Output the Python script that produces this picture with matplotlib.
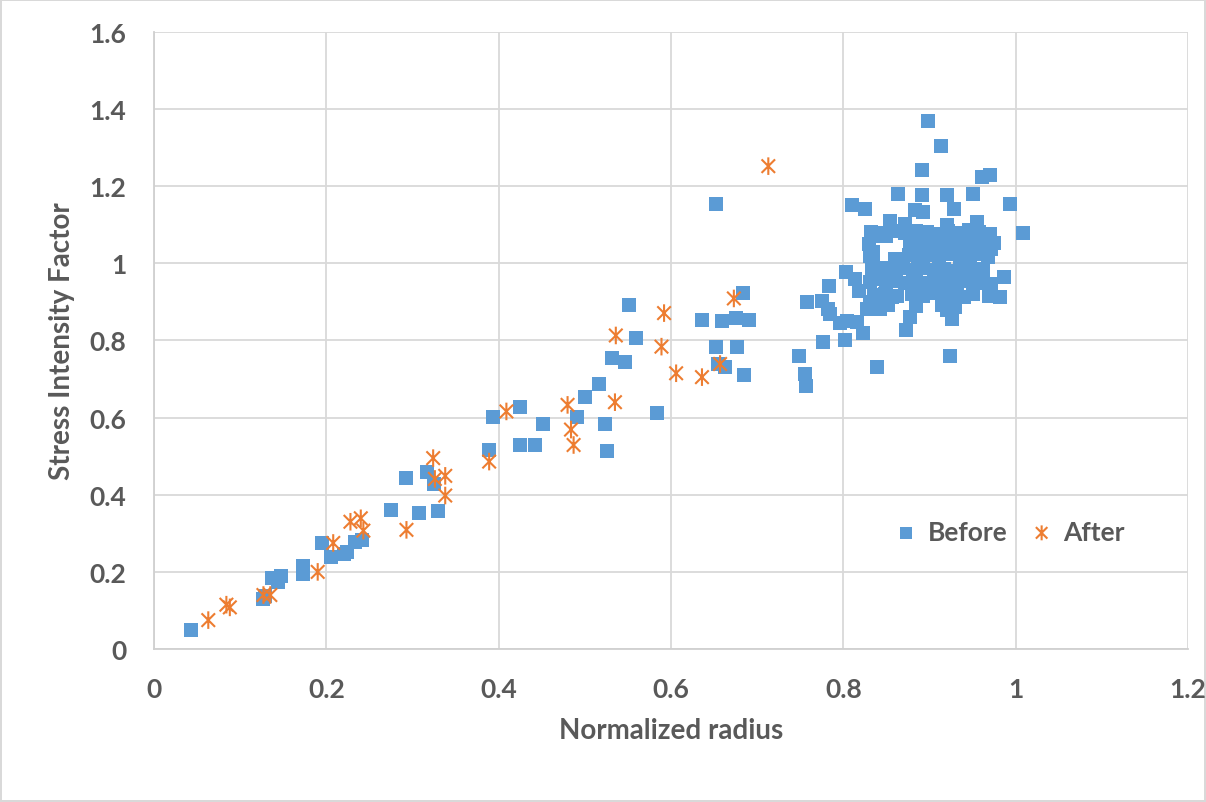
import matplotlib.pyplot as plt
import numpy as np
from matplotlib.path import Path

plt.rcParams['font.family'] = ['Lato', 'DejaVu Sans']
plt.rcParams['font.weight'] = 'bold'
plt.rcParams['axes.labelweight'] = 'bold'

# Before: scattered points
before_x = [0.043, 0.127, 0.129, 0.137, 0.147, 0.144, 0.173, 0.173, 0.195, 0.206, 0.220, 0.224,
            0.233, 0.241, 0.275, 0.293, 0.308, 0.317, 0.325, 0.330, 0.389, 0.393, 0.425, 0.425,
            0.442, 0.451, 0.491, 0.500, 0.517, 0.524, 0.526, 0.531, 0.547, 0.551, 0.559, 0.584,
            0.636, 0.652, 0.652, 0.655, 0.659, 0.663, 0.676, 0.677, 0.684, 0.685, 0.690,
            0.749, 0.756, 0.757, 0.758, 0.775, 0.777, 0.782, 0.784, 0.785, 0.796, 0.802, 0.803,
            0.804, 0.810, 0.814, 0.816, 0.818, 0.823, 0.825, 0.827, 0.831, 0.839, 0.843, 0.847,
            0.839, 0.850, 0.835, 0.835, 0.839, 0.854, 0.858, 0.860, 0.850, 0.856, 0.854, 0.863,
            0.898, 0.914, 0.891, 0.961, 0.970, 0.891, 0.920, 0.950, 0.994, 1.009, 0.883, 0.892,
            0.929, 0.872, 0.955, 0.920, 0.972, 0.986, 0.972, 0.982, 0.969, 0.924, 0.873, 0.877,
            0.926, 0.920]
before_y = [0.049, 0.130, 0.138, 0.183, 0.190, 0.173, 0.216, 0.195, 0.275, 0.238, 0.246, 0.251,
            0.277, 0.283, 0.361, 0.443, 0.352, 0.458, 0.428, 0.357, 0.517, 0.601, 0.627, 0.529,
            0.529, 0.584, 0.601, 0.653, 0.687, 0.584, 0.513, 0.755, 0.743, 0.892, 0.806, 0.611,
            0.853, 1.154, 0.784, 0.739, 0.850, 0.732, 0.858, 0.784, 0.922, 0.711, 0.853,
            0.759, 0.713, 0.681, 0.899, 0.903, 0.795, 0.882, 0.940, 0.869, 0.845, 0.800, 0.977,
            0.851, 1.150, 0.960, 0.847, 0.929, 0.820, 1.141, 0.882, 0.899, 0.730, 0.882, 0.899,
            1.072, 1.072, 1.029, 0.994, 0.960, 0.960, 0.985, 1.011, 0.925, 0.912, 1.111, 1.180,
            1.370, 1.304, 1.242, 1.223, 1.230, 1.177, 1.176, 1.180, 1.154, 1.079, 1.137, 1.133,
            1.140, 1.102, 1.106, 1.100, 1.037, 0.964, 0.947, 0.912, 0.916, 0.761, 0.826, 0.860,
            0.856, 0.878]

# Before: dense cluster near the rim
cluster_x = [0.832, 0.845, 0.856, 0.872, 0.884, 0.897, 0.908, 0.921, 0.934, 0.946, 0.958, 0.970,
             0.830, 0.878, 0.889, 0.901, 0.913, 0.925, 0.937, 0.949, 0.961, 0.975,
             0.831, 0.876, 0.887, 0.899, 0.911, 0.923, 0.935, 0.947, 0.959, 0.968,
             0.833, 0.845, 0.857, 0.869, 0.881, 0.893, 0.905, 0.917, 0.929, 0.941, 0.953, 0.962,
             0.831, 0.861, 0.872, 0.884, 0.896, 0.908, 0.920, 0.932, 0.944, 0.955,
             0.836, 0.848, 0.862, 0.880, 0.892, 0.904, 0.916, 0.928, 0.940, 0.950,
             0.840, 0.852, 0.884, 0.915, 0.930]
cluster_y = [1.081, 1.078, 1.084, 1.079, 1.085, 1.080, 1.077, 1.083, 1.079, 1.086, 1.080, 1.075,
             1.050, 1.052, 1.047, 1.053, 1.049, 1.055, 1.046, 1.051, 1.048, 1.052,
             1.019, 1.021, 1.016, 1.022, 1.018, 1.024, 1.015, 1.020, 1.023, 1.017,
             0.985, 0.988, 0.982, 0.987, 0.983, 0.989, 0.984, 0.986, 0.981, 0.988, 0.985, 0.983,
             0.952, 0.955, 0.949, 0.953, 0.950, 0.956, 0.951, 0.948, 0.954, 0.950,
             0.918, 0.921, 0.915, 0.920, 0.916, 0.922, 0.917, 0.919, 0.914, 0.921,
             0.889, 0.892, 0.890, 0.893, 0.888]

after_x = [0.063, 0.084, 0.088, 0.127, 0.135, 0.190, 0.208, 0.228, 0.240, 0.243, 0.293, 0.324,
           0.326, 0.338, 0.338, 0.389, 0.409, 0.480, 0.484, 0.487, 0.535, 0.536, 0.589, 0.592,
           0.606, 0.636, 0.657, 0.673, 0.713]
after_y = [0.075, 0.115, 0.108, 0.140, 0.140, 0.200, 0.275, 0.330, 0.339, 0.307, 0.309, 0.495,
           0.441, 0.449, 0.398, 0.486, 0.616, 0.633, 0.569, 0.529, 0.640, 0.813, 0.784, 0.871,
           0.715, 0.705, 0.739, 0.909, 1.252]

x_ticks = [0, 0.2, 0.4, 0.6, 0.8, 1, 1.2]
y_ticks = [0, 0.2, 0.4, 0.6, 0.8, 1, 1.2, 1.4, 1.6]

# Excel-like star: X plus a vertical bar
star = Path([(-1, -1), (1, 1), (-1, 1), (1, -1), (0, -1.3), (0, 1.3)],
            [Path.MOVETO, Path.LINETO, Path.MOVETO, Path.LINETO, Path.MOVETO, Path.LINETO])

grey = '#595959'
fig = plt.figure(figsize=(12.06, 8.03), dpi=100)
fig.patch.set_edgecolor('#d9d9d9')
fig.patch.set_linewidth(1.5)
ax = fig.add_axes([0.1277, 0.1905, 0.8573, 0.7685])

bx = np.array(before_x + cluster_x)
by = np.array(before_y + cluster_y)
ax.scatter(bx, by, marker='s', s=112, color='#5B9BD5', linewidths=0, label='Before', zorder=3)
ax.scatter(after_x, after_y, marker=star, s=160, facecolor='none', edgecolors='#ED7D31',
           linewidths=1.5, label='After', zorder=4)

ax.set_xlim(0, 1.2)
ax.set_ylim(0, 1.6)
ax.set_xticks(x_ticks)
ax.set_yticks(y_ticks)
ax.set_xticklabels([f'{t:g}' for t in x_ticks], fontweight='bold')
ax.set_yticklabels([f'{t:g}' for t in y_ticks], fontweight='bold')
ax.tick_params(length=0, labelsize=19, colors=grey)
ax.tick_params(axis='x', pad=20)
ax.tick_params(axis='y', pad=20)
ax.grid(True, color='#d9d9d9', linewidth=1.3)
ax.set_axisbelow(True)
for side in ['top', 'right']:
    ax.spines[side].set_visible(False)
for side in ['left', 'bottom']:
    ax.spines[side].set_color('#d0d0d0')
    ax.spines[side].set_linewidth(1.3)

ax.set_xlabel('Normalized radius', fontsize=20, color=grey, fontweight='bold', labelpad=12)
ax.set_ylabel('Stress Intensity Factor', fontsize=20, color=grey, fontweight='bold', labelpad=10)

leg = ax.legend(loc='center', bbox_to_anchor=(0.828, 0.19), ncol=2, frameon=False,
                prop={'size': 19, 'weight': 'bold'}, handlelength=0.8, handletextpad=0.4,
                columnspacing=0.9, markerscale=0.85)
for t in leg.get_texts():
    t.set_color(grey)

plt.savefig('out.png', dpi=100)
